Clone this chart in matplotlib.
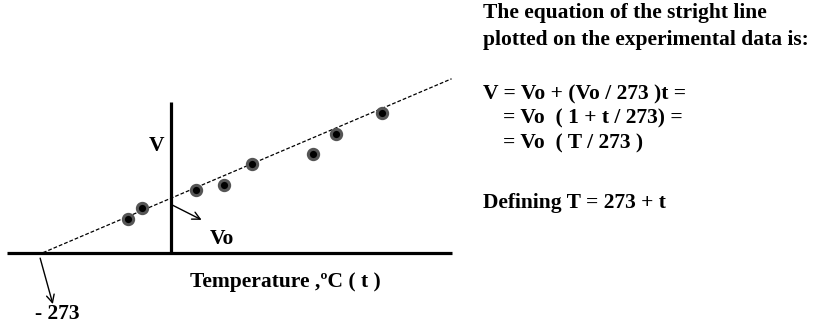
import matplotlib
matplotlib.use("Agg")
import matplotlib.pyplot as plt

# Experimental gas volume vs. temperature (t in degC, V in units where Vo = 100)
t_data = [-92, -63, 52, 111, 172, 300, 350, 447]
v_data = [61, 81, 115, 124, 163, 181, 217, 256]
V0 = 100
T_ABS_ZERO = -273
T_LINE_END = 595

W, H = 816, 325
fig = plt.figure(figsize=(W / 100, H / 100), dpi=100)
ax = fig.add_axes([0, 0, 1, 1])
ax.set_xlim(-364.3, 1369.2)
ax.set_ylim(-132.2, 462.0)
ax.axis("off")

FONT = dict(family="Liberation Serif", weight="bold", fontsize=15.5, color="black")


def px(x, y):
    return x / W, 1 - y / H


# axes drawn as thick black lines
ax.plot([-349.5, 596], [0, 0], color="black", lw=2.3, solid_capstyle="butt")
ax.plot([0, 0], [0, 275.5], color="black", lw=2.3, solid_capstyle="butt")

# fitted straight line V = Vo (1 + t/273), extrapolated to -273
t_fit = [T_ABS_ZERO, T_LINE_END]
v_fit = [V0 * (1 + t / 273) for t in t_fit]
ax.plot(t_fit, v_fit, color="black", lw=0.9, linestyle=(0, (3, 1.6)))

# data points
ax.plot(t_data, v_data, linestyle="none", marker="o", markersize=7.4,
        markerfacecolor="black", markeredgecolor="#555555", markeredgewidth=2.2)

# arrows
ax.annotate("", xy=(64, 60), xytext=(2, 87),
            arrowprops=dict(arrowstyle="->", lw=1.0, color="black",
                            mutation_scale=14, shrinkA=0, shrinkB=0))
ax.annotate("", xy=(-252, -94), xytext=(-279, -10),
            arrowprops=dict(arrowstyle="->", lw=1.0, color="black",
                            mutation_scale=14, shrinkA=0, shrinkB=0))

# axis labels
fig.text(*px(148.3, 151), "V", va="baseline", ha="left", **FONT)
fig.text(*px(209.3, 244), "Vo", va="baseline", ha="left", **FONT)
fig.text(*px(190, 287.3), "Temperature ,ºC ( t )", va="baseline", ha="left", **FONT)
fig.text(*px(35, 319), "- 273", va="baseline", ha="left", **FONT)

# explanation block
lines = [
    (483, 18.3, "The equation of the stright line"),
    (483, 45.0, "plotted on the experimental data is:"),
    (483, 99.3, "V = Vo + (Vo / 273 )t ="),
    (503, 123.3, "= Vo  ( 1 + t / 273) ="),
    (503, 148.3, "= Vo  ( T / 273 )"),
    (483, 208.3, "Defining T = 273 + t"),
]
for x, y, s in lines:
    fig.text(*px(x, y), s, va="baseline", ha="left", **FONT)

fig.savefig("out.png", dpi=100)
